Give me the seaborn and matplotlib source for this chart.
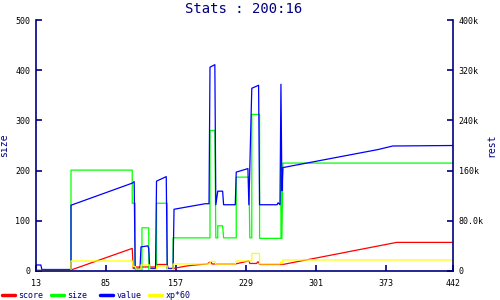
import matplotlib
matplotlib.use("Agg")
import matplotlib.pyplot as plt
import seaborn as sns
from matplotlib.lines import Line2D

# ---- data ----
x_ticks = [13, 85, 157, 229, 301, 373, 442]
left_ticks = [0, 100, 200, 300, 400, 500]
right_ticks = [0, 80000, 160000, 240000, 320000, 400000]
right_tick_labels = ["0", "80.0k", "160k", "240k", "320k", "400k"]

score_x = [13, 49, 112, 113, 116, 137, 138, 148, 149, 154, 168, 177, 189, 193, 194,
           218, 225, 232, 233, 240, 241, 242, 243, 267, 384, 442]
score_y = [1, 2, 45, 5, 8, 8, 13, 13, 5, 5, 10, 12, 14, 19, 14,
           14, 17, 20, 15, 15, 18, 18, 13, 13, 57, 57]

size_x = [13, 49, 49, 112, 112, 115, 115, 122, 122, 129, 129, 137, 137, 148, 148, 154, 154,
          192, 192, 197, 198, 200, 200, 205, 206, 219, 219, 232, 233, 235, 235, 243, 243,
          265, 265, 266, 267, 442]
size_y = [2, 2, 201, 201, 135, 135, 2, 2, 86, 86, 3, 3, 135, 135, 3, 3, 66,
          66, 280, 280, 66, 66, 90, 90, 66, 66, 187, 187, 66, 66, 312, 312, 65,
          65, 215, 65, 215, 215]

value_x = [13, 18, 19, 49, 49, 112, 114, 115, 120, 121, 128, 129, 130, 136, 137, 147, 148,
           154, 155, 187, 191, 192, 197, 198, 200, 205, 206, 218, 219, 231, 232, 235, 242,
           243, 261, 262, 264, 265, 266, 267, 365, 380, 442]
value_y = [12, 12, 3, 3, 131, 175, 178, 5, 5, 48, 50, 45, 5, 5, 179, 188, 5,
           5, 123, 134, 134, 406, 411, 132, 159, 159, 132, 132, 197, 204, 132, 364, 370,
           132, 132, 136, 132, 372, 160, 206, 242, 249, 250]

xp_x = [13, 49, 49, 112, 113, 115, 116, 121, 121, 130, 130, 137, 137, 148, 148, 154, 154,
        192, 192, 197, 198, 218, 219, 235, 235, 243, 243, 264, 265, 266, 267, 442]
xp_y = [1, 1, 20, 20, 9, 9, 4, 4, 12, 12, 3, 3, 10, 10, 3, 3, 14,
        14, 19, 19, 14, 14, 20, 20, 35, 35, 14, 14, 18, 14, 22, 22]

series = [
    ("score", score_x, score_y, "#ff0000"),
    ("size", size_x, size_y, "#00ff00"),
    ("value", value_x, value_y, "#0000ff"),
    ("xp*60", xp_x, xp_y, "#ffff00"),
]

# ---- style ----
sns.set_style("white")
navy = "#000080"
plt.rcParams["font.family"] = ["DejaVu Sans Mono", "DejaVu Sans"]

fig = plt.figure(figsize=(5, 3), dpi=100)
fig.patch.set_facecolor("white")
ax = fig.add_axes([36 / 500, 1 - 271 / 300, 417 / 500, 251 / 300])

for name, xs, ys, col in series:
    sns.lineplot(x=xs, y=ys, ax=ax, color=col, estimator=None, sort=False,
                 linewidth=0.9, legend=False)

ax.set_xlim(13, 442)
ax.set_ylim(0, 500)
ax.set_xticks(x_ticks)
ax.set_xticklabels([str(t) for t in x_ticks])
ax.set_yticks(left_ticks)
ax.set_yticklabels([str(t) for t in left_ticks])
ax.set_xlabel("")
ax.set_ylabel("size", color=navy, fontsize=7)
ax.yaxis.set_label_coords((9 - 36) / 417, 0.5)

ax2 = ax.twinx()
ax2.set_ylim(0, 400000)
ax2.set_yticks(right_ticks)
ax2.set_yticklabels(right_tick_labels)
ax2.set_ylabel("rest", color=navy, fontsize=7)
ax2.yaxis.set_label_coords((486 - 36) / 417, 0.5)

for a in (ax, ax2):
    a.spines["top"].set_visible(False)
    for side in ("left", "bottom", "right"):
        a.spines[side].set_color(navy)
        a.spines[side].set_linewidth(1.2)
ax.spines["right"].set_visible(False)
ax2.spines["left"].set_visible(False)
ax2.spines["bottom"].set_visible(False)

ax.tick_params(axis="both", direction="in", length=4, width=1.2, color=navy,
               labelsize=6, labelcolor="black", pad=4)
ax.tick_params(axis="y", left=True, right=False)
ax.tick_params(axis="x", bottom=True, pad=6)
ax2.tick_params(axis="y", direction="in", length=4, width=1.2, color=navy,
                labelsize=6, labelcolor="black", pad=4, right=True)

fig.text(244 / 500, 1 - 9 / 300, "Stats : 200:16", color=navy, fontsize=10,
         ha="center", va="center")

# legend: four fixed-width slots
for i, (name, xs, ys, col) in enumerate(series):
    h = Line2D([0], [0], color=col, lw=2.5)
    lg = fig.legend([h], [name], loc="center left",
                    bbox_to_anchor=((2 + 49 * i) / 500, 5 / 300),
                    frameon=False, handlelength=1.5, handletextpad=0.45,
                    borderpad=0, borderaxespad=0,
                    prop={"family": "DejaVu Sans Mono", "size": 6})
    for t in lg.get_texts():
        t.set_color(navy)

fig.savefig("out.png", dpi=100)
